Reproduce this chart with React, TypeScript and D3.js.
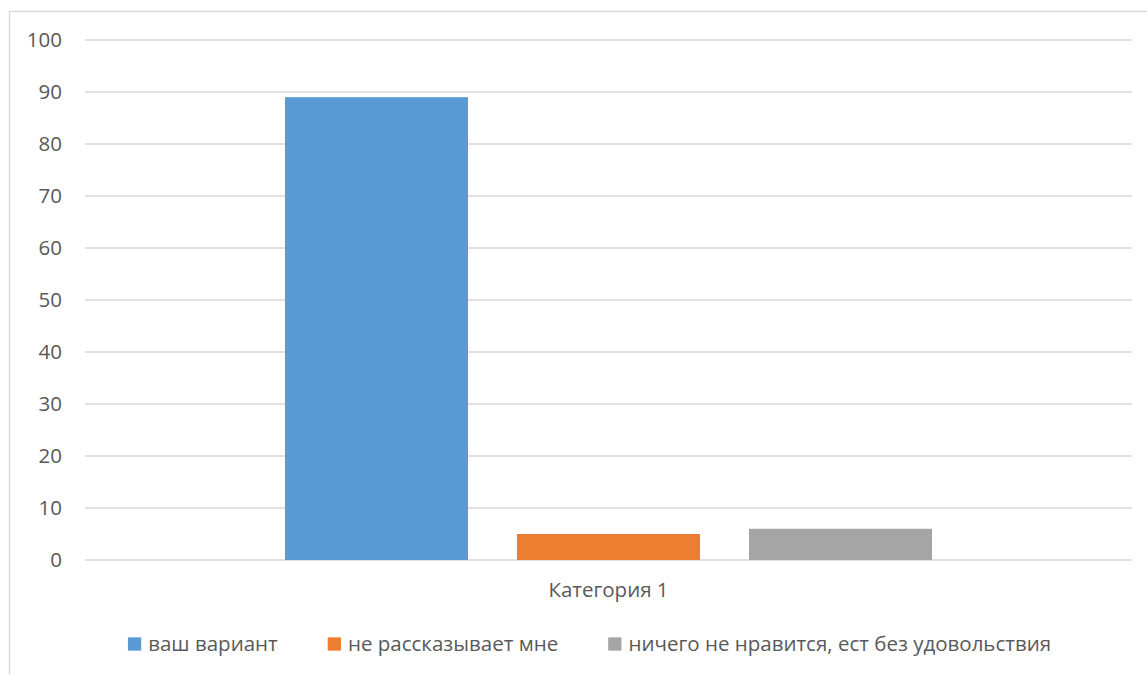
import React, { useEffect, useRef } from "react";
import * as d3 from "d3";

const categories = ["Категория 1"];
const seriesNames = ["ваш вариант", "не рассказывает мне", "ничего не нравится, ест без удовольствия"];
const seriesValues = [89, 5, 6];
const seriesColors = ["#5B9BD5", "#ED7D31", "#A5A5A5"];
const yTicks = [0, 10, 20, 30, 40, 50, 60, 70, 80, 90, 100];

const W = 1147;
const H = 675;
const FONT = "'Open Sans', sans-serif";
const FS = 20.5;

export default function App() {
  const ref = useRef<SVGSVGElement>(null);

  useEffect(() => {
    const svg = d3.select(ref.current);
    svg.selectAll("*").remove();

    const plot = { left: 85, right: 1132, top: 40, bottom: 560 };

    // chart border
    svg.append("rect")
      .attr("x", 9.5).attr("y", 11.5)
      .attr("width", W + 20).attr("height", H + 20)
      .attr("fill", "#fff").attr("stroke", "#d9d9d9").attr("stroke-width", 1.3);

    const y = d3.scaleLinear().domain([0, 100]).range([plot.bottom, plot.top]);

    const x0 = d3.scaleBand<string>().domain(categories)
      .range([plot.left, plot.right]).paddingInner(0).paddingOuter(0.309);
    const x1 = d3.scaleBand<string>().domain(seriesNames)
      .range([0, x0.bandwidth()]).paddingInner(0.211).paddingOuter(0);

    // gridlines
    svg.append("g").selectAll("line").data(yTicks).join("line")
      .attr("x1", plot.left).attr("x2", plot.right)
      .attr("y1", (d) => y(d)).attr("y2", (d) => y(d))
      .attr("stroke", "#d9d9d9").attr("stroke-width", 1.5);

    // y tick labels
    svg.append("g").selectAll("text").data(yTicks).join("text")
      .attr("x", 62).attr("y", (d) => y(d)).attr("dy", "0.35em")
      .attr("text-anchor", "end")
      .attr("font-family", FONT).attr("font-size", FS).attr("fill", "#595959")
      .text((d) => String(d));

    // bars
    const cat = categories[0];
    svg.append("g").selectAll("rect").data(seriesNames).join("rect")
      .attr("x", (d) => (x0(cat) as number) + (x1(d) as number))
      .attr("width", x1.bandwidth())
      .attr("y", (d, i) => y(seriesValues[i]))
      .attr("height", (d, i) => y(0) - y(seriesValues[i]))
      .attr("fill", (d, i) => seriesColors[i]);

    // category label
    svg.append("text")
      .attr("x", (x0(cat) as number) + x0.bandwidth() / 2).attr("y", 590).attr("dy", "0.35em")
      .attr("text-anchor", "middle")
      .attr("font-family", FONT).attr("font-size", FS).attr("fill", "#595959")
      .text(cat);

    // legend
    const legend = svg.append("g");
    const sq = 13.3;
    const gapSqText = 7;
    const gapItems = 50;
    const items = legend.selectAll("g").data(seriesNames).join("g");
    items.append("rect").attr("width", sq).attr("height", sq)
      .attr("y", -sq / 2).attr("fill", (d, i) => seriesColors[i]);
    items.append("text").attr("x", sq + gapSqText).attr("dy", "0.35em")
      .attr("font-family", FONT).attr("font-size", FS).attr("fill", "#595959")
      .text((d) => d);
    const widths: number[] = [];
    items.select("text").each(function () {
      widths.push((this as SVGTextElement).getComputedTextLength());
    });
    const itemW = widths.map((w) => sq + gapSqText + w);
    const total = d3.sum(itemW) + gapItems * (itemW.length - 1);
    let cx = 589.5 - total / 2;
    const offsets: number[] = [];
    itemW.forEach((w) => { offsets.push(cx); cx += w + gapItems; });
    items.attr("transform", (d, i) => `translate(${offsets[i]},644)`);
  }, []);

  return (
    <svg ref={ref} width={W} height={H}
      style={{ position: "absolute", left: 0, top: 0, background: "#fff" }} />
  );
}
